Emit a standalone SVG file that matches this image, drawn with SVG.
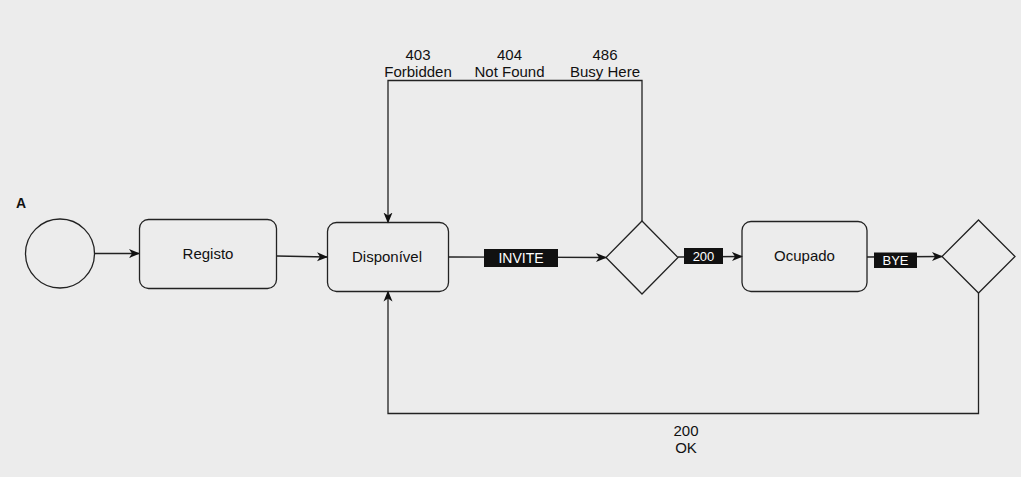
<svg xmlns="http://www.w3.org/2000/svg" width="1021" height="477" viewBox="0 0 1021 477">
<style>
.shape{fill:none;stroke:#222;stroke-width:1.3}
.edge{fill:none;stroke:#222;stroke-width:1.3}
.t{font-family:"Liberation Sans",Arial,sans-serif;font-size:15px;fill:#111;text-anchor:middle}
.lbl{font-family:"Liberation Sans",Arial,sans-serif;font-size:13px;fill:#fff;text-anchor:middle}
.lblbg{fill:#111}
</style>
<defs>
<marker id="arr" markerUnits="userSpaceOnUse" markerWidth="12" markerHeight="10" refX="10" refY="5" orient="auto" viewBox="0 0 12 10">
<path d="M0,0.5 L11,5 L0,9.5 L3,5 Z" fill="#111"/>
</marker>
</defs>
<rect width="1021" height="477" fill="#ececec"/>
<text x="21" y="208" class="t" style="font-weight:bold;font-size:14px">A</text>
<g id="connectors">
<path class="edge" d="M94,253.5 L139,253.5" marker-end="url(#arr)"/>
<path class="edge" d="M277,256 L327,257" marker-end="url(#arr)"/>
<path class="edge" d="M448,257 L606,257.5" marker-end="url(#arr)"/>
<path class="edge" d="M678,257 L742,256.5" marker-end="url(#arr)"/>
<path class="edge" d="M867,257 L942,256.5" marker-end="url(#arr)"/>
<path class="edge" d="M642,221 L642,80.5 L388,80.5 L388,222.5" marker-end="url(#arr)"/>
<path class="edge" d="M978.5,293 L978.5,413.5 L388,413.5 L388,291.5" marker-end="url(#arr)"/>
<g id="edge-labels">
<rect class="lblbg" x="484" y="249" width="74" height="18"/>
<text class="lbl" x="521" y="262.5" style="font-size:14px">INVITE</text>
<rect class="lblbg" x="684" y="248" width="39" height="16"/>
<text class="lbl" x="703.5" y="260.5">200</text>
<rect class="lblbg" x="874" y="252.5" width="43" height="15.5"/>
<text class="lbl" x="895.5" y="264.5">BYE</text>
<text class="t" x="418" y="60">403</text>
<text class="t" x="418" y="77">Forbidden</text>
<text class="t" x="509.5" y="60">404</text>
<text class="t" x="509.5" y="77">Not Found</text>
<text class="t" x="605" y="60">486</text>
<text class="t" x="605" y="77">Busy Here</text>
<text class="t" x="686" y="436">200</text>
<text class="t" x="686" y="453">OK</text>
</g>
</g>
<g id="start"><circle class="shape" cx="60" cy="253.5" r="34.5"/></g>
<g id="registo"><rect class="shape" x="139.5" y="219.5" width="137" height="69" rx="9"/><text class="t" x="208" y="259">Registo</text></g>
<g id="disponivel"><rect class="shape" x="327.5" y="222.5" width="121" height="69" rx="9"/><text class="t" x="387" y="262">Disponível</text></g>
<g id="decision1"><path class="shape" d="M642,221 L678,257.5 L642,294 L606,257.5 Z"/></g>
<g id="ocupado"><rect class="shape" x="742" y="221.5" width="125" height="70" rx="9"/><text class="t" x="804.5" y="261">Ocupado</text></g>
<g id="decision2"><path class="shape" d="M978.5,220 L1015,256.5 L978.5,293 L942,256.5 Z"/></g>
</svg>
